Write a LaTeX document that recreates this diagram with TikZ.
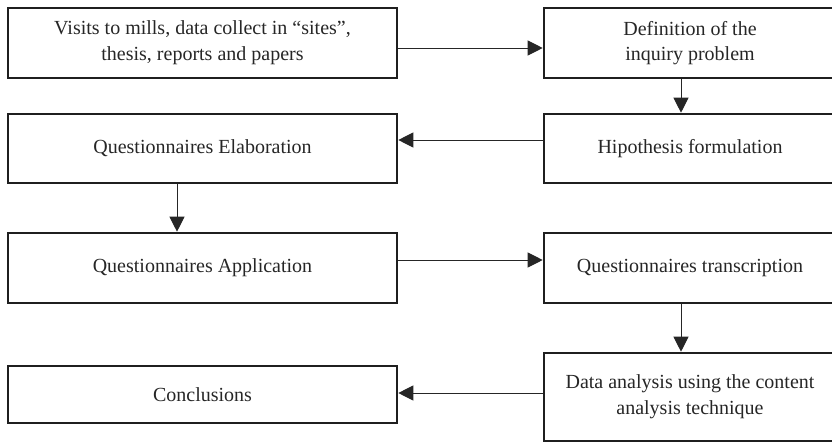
\documentclass[tikz,border=0pt]{standalone}
\usepackage{fontspec}
\setmainfont{Liberation Serif}
\usetikzlibrary{arrows.meta}
\begin{document}
\begin{tikzpicture}[x=1pt,y=-1pt,
  box/.style={draw=black!88, line width=2.6pt, inner sep=0pt, align=center,
    font=\fontsize{20}{26}\selectfont, text=black!85},
  lbox/.style={box, minimum width=389pt},
  rbox/.style={box, minimum width=292pt},
  arr/.style={draw=black!85, line width=1pt, -{Triangle[length=15pt,width=15pt]}}
]
\useasboundingbox (0,0) rectangle (832,442);
% left column
\node[lbox, minimum height=70pt] (visits) at (202.5,43) {Visits to mills, data collect in ``sites'',\\thesis, reports and papers};
\node[lbox, minimum height=69pt] (elab) at (202.5,148.5) {Questionnaires Elaboration};
\node[lbox, minimum height=70pt] (appl) at (202.5,268) {Questionnaires Application};
\node[lbox, minimum height=57pt] (concl) at (202.5,394.5) {Conclusions};
% right column
\node[rbox, minimum height=70pt] (defn) at (690,43) {\raisebox{5pt}{\begin{tabular}{@{}c@{}}Definition of the\\[-1pt]inquiry problem\end{tabular}}};
\node[rbox, minimum height=69pt] (hipo) at (690,148.5) {Hipothesis formulation};
\node[rbox, minimum height=70pt] (trans) at (690,268) {\raisebox{4pt}{Questionnaires transcription}};
\node[rbox, minimum height=88pt] (data) at (690,397) {Data analysis using the content\\analysis technique};
% connectors
\draw[arr] ([yshift=-5pt]visits.east) -- ([yshift=-5pt]defn.west);
\draw[arr] ([xshift=-9pt]defn.south) -- ([xshift=-9pt]hipo.north);
\draw[arr] ([yshift=8.5pt]hipo.west) -- ([yshift=8.5pt]elab.east);
\draw[arr] ([xshift=-25.5pt]elab.south) -- ([xshift=-25.5pt]appl.north);
\draw[arr] ([yshift=8pt]appl.east) -- ([yshift=8pt]trans.west);
\draw[arr] ([xshift=-9pt]trans.south) -- ([xshift=-9pt]data.north);
\draw[arr] ([yshift=4pt]data.west) -- ([yshift=1.5pt]concl.east);
\end{tikzpicture}
\end{document}
